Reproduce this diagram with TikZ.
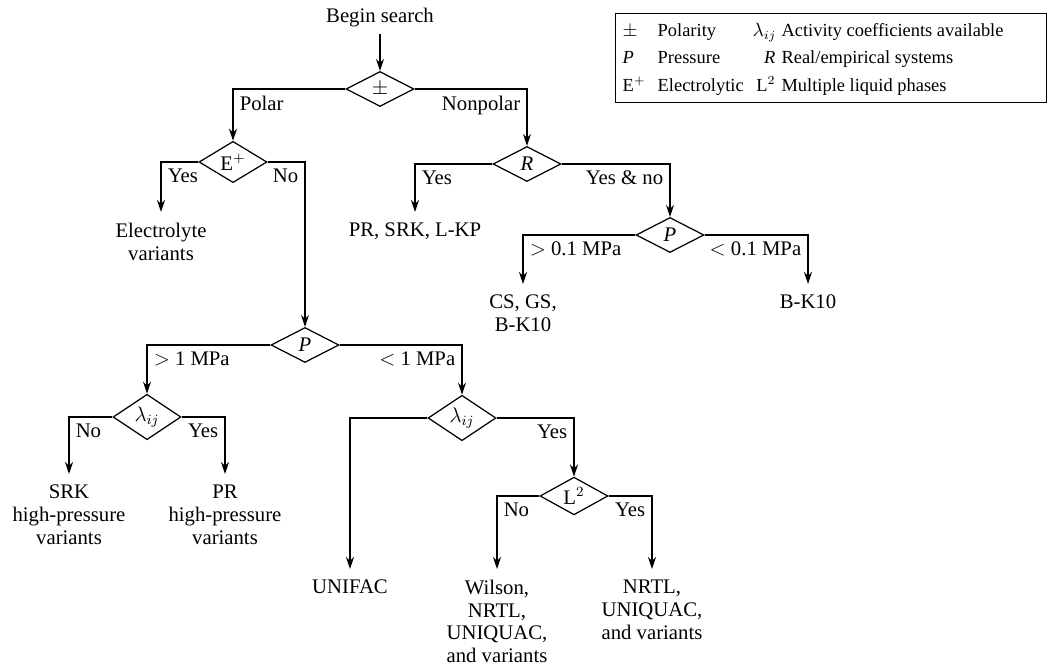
\documentclass[tikz,border=0pt]{standalone}
\usepackage{fontspec}
\setmainfont{Liberation Serif}
\usepackage{array}
\usetikzlibrary{arrows.meta,positioning,shapes.geometric}
\tikzset{
  decbox/.style={draw, diamond, line width=0.7pt, minimum width=1.36cm, minimum height=0.7cm, inner sep=0pt, font=\fontsize{11.8}{13}\selectfont},
  leafbox/.style={anchor=north, align=center, inner xsep=2pt, inner ysep=6pt, font=\fontsize{11.8}{13}\selectfont},
  branchlbl/.style={font=\fontsize{11.8}{13}\selectfont, inner sep=3.5pt},
  flowarrow/.style={-{Stealth[length=2.4mm,width=1.6mm]}, line width=0.7pt},
  legendbox/.style={draw, line width=0.6pt, anchor=north west, inner xsep=4pt, inner ysep=2pt, font=\fontsize{10.5}{12.5}\selectfont}
}

\begin{document}
\begin{tikzpicture}[x=0.02cm, y=-0.02cm]
\useasboundingbox (0,0) rectangle (1049,665);
% decisions
\node[branchlbl] (start) at (380,18) {Begin search};
\node[decbox] (pm) at (380,89) {$\pm$};
\node[decbox] (eplus) at (233,162) {E$^+$};
\node[decbox] (real) at (527,164) {\textit{R}};
\node[decbox] (pnp) at (670,235) {\textit{P}};
\node[decbox] (ppol) at (305,345) {\textit{P}};
\node[decbox] (lamhi) at (147,417) {$\lambda_{ij}$};
\node[decbox] (lamlo) at (462,418) {$\lambda_{ij}$};
\node[decbox] (liq) at (574,496) {L$^2$};

% results
\node[leafbox] (elec) at (161,212) {Electrolyte\\variants};
\node[leafbox] (cubic) at (415,212) {PR, SRK, L-KP};
\node[leafbox] (csgs) at (523,284) {CS, GS,\\B-K10};
\node[leafbox] (bk) at (808,284) {B-K10};
\node[leafbox] (srkhp) at (69,474) {SRK\\high-pressure\\variants};
\node[leafbox] (prhp) at (225,474) {PR\\high-pressure\\variants};
\node[leafbox] (unifac) at (350,569) {UNIFAC};
\node[leafbox] (wilson) at (497,569) {Wilson,\\NRTL,\\UNIQUAC,\\and variants};
\node[leafbox] (nrtl) at (652,569) {NRTL,\\UNIQUAC,\\and variants};

% connectors
\draw[flowarrow] (start) -- (pm);
\draw[flowarrow] (pm.west) -| node[branchlbl, below right] {Polar} (eplus.north);
\draw[flowarrow] (pm.east) -| node[branchlbl, below left] {Nonpolar} (real.north);
\draw[flowarrow] (eplus.west) -| node[branchlbl, below right] {Yes} (elec.north);
\draw[flowarrow] (eplus.east) -| node[branchlbl, below left] {No} (ppol.north);
\draw[flowarrow] (real.west) -| node[branchlbl, below right] {Yes} (cubic.north);
\draw[flowarrow] (real.east) -| node[branchlbl, below left] {Yes \& no} (pnp.north);
\draw[flowarrow] (pnp.west) -| node[branchlbl, below right] {$>$ 0.1 MPa} (csgs.north);
\draw[flowarrow] (pnp.east) -| node[branchlbl, below left] {$<$ 0.1 MPa} (bk.north);
\draw[flowarrow] (ppol.west) -| node[branchlbl, below right] {$>$ 1 MPa} (lamhi.north);
\draw[flowarrow] (ppol.east) -| node[branchlbl, below left] {$<$ 1 MPa} (lamlo.north);
\draw[flowarrow] (lamhi.west) -| node[branchlbl, below right] {No} (srkhp.north);
\draw[flowarrow] (lamhi.east) -| node[branchlbl, below left] {Yes} (prhp.north);
\draw[flowarrow] (lamlo.west) -| (unifac.north);
\draw[flowarrow] (lamlo.east) -| node[branchlbl, below left] {Yes} (liq.north);
\draw[flowarrow] (liq.west) -| node[branchlbl, below right] {No} (wilson.north);
\draw[flowarrow] (liq.east) -| node[branchlbl, below left] {Yes} (nrtl.north);

% key
\renewcommand{\arraystretch}{1.25}
\node[legendbox] (legend) at (615,13) {%
\begin{tabular}{@{}p{20pt}@{}p{54pt}@{}>{\raggedleft\arraybackslash}p{13pt}@{\hspace{3.5pt}}p{147pt}@{}}
$\pm$ & Polarity & $\lambda_{ij}$ & Activity coefficients available\\
\textit{P} & Pressure & \textit{R} & Real/empirical systems\\
E$^+$ & Electrolytic & L$^2$ & Multiple liquid phases
\end{tabular}};
\end{tikzpicture}
\end{document}
